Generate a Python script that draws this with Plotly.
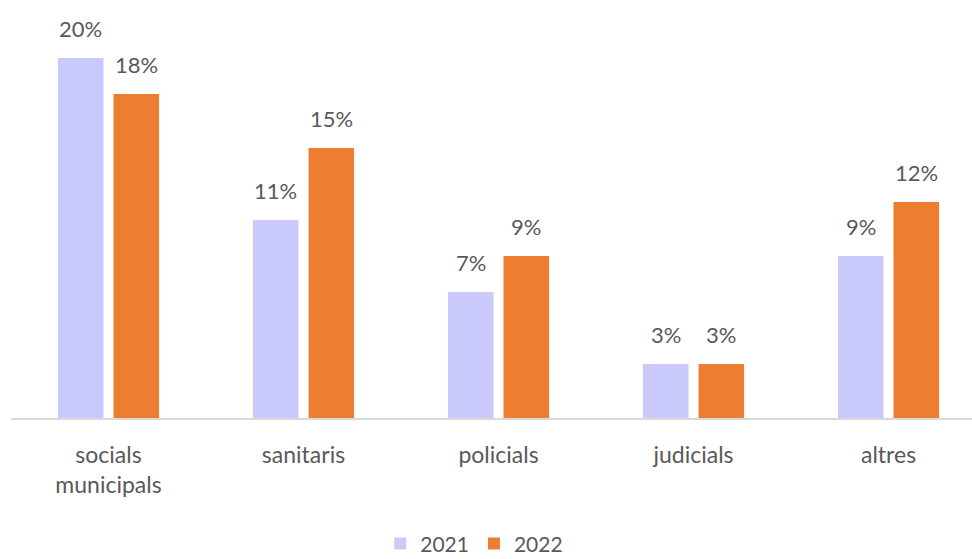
import plotly.graph_objects as go

# Categories and yearly shares (%)
categories = ["socials<br>municipals", "sanitaris", "policials", "judicials", "altres"]
years = ["2021", "2022"]
values_2021 = [20, 11, 7, 3, 9]
values_2022 = [18, 15, 9, 3, 12]

colors = {"2021": "#c9c9fb", "2022": "#ed7d31"}
text_color = "#595959"
font_family = "Lato, 'Open Sans', sans-serif"

bargap = 0.43
bargroupgap = 0.18

fig = go.Figure()
for year, vals in zip(years, [values_2021, values_2022]):
    fig.add_trace(go.Bar(
        x=categories,
        y=vals,
        name=year,
        marker=dict(color=colors[year], line=dict(width=0)),
    ))

# Value labels above each bar, placed at the centre of its slot in the group
slot = (1 - bargap) / len(years)
for k, vals in enumerate([values_2021, values_2022]):
    shift = (k - (len(years) - 1) / 2) * slot
    for i, v in enumerate(vals):
        fig.add_annotation(
            x=i + shift, y=v, xref="x", yref="y",
            text=f"{v}%", showarrow=False,
            yanchor="bottom", xanchor="center", yshift=14,
            font=dict(size=22, color=text_color, family=font_family),
        )

fig.update_layout(
    width=972,
    height=559,
    margin=dict(l=11, r=0, t=20, b=141, autoexpand=False),
    paper_bgcolor="white",
    plot_bgcolor="white",
    barmode="group",
    bargap=bargap,
    bargroupgap=bargroupgap,
    font=dict(family=font_family, size=22, color=text_color),
    showlegend=True,
    legend=dict(
        orientation="h",
        x=0.482, xanchor="center",
        y=-0.316, yanchor="middle",
        font=dict(size=21, color=text_color),
        itemwidth=30,
        traceorder="normal",
    ),
    xaxis=dict(
        range=[-0.5, 4.428],
        automargin=False,
        showline=True,
        linecolor="#d9d9d9",
        linewidth=1.5,
        showgrid=False,
        ticks="outside",
        ticklen=16,
        tickcolor="rgba(0,0,0,0)",
        tickfont=dict(size=23, color=text_color),
    ),
    yaxis=dict(
        range=[0, 22.11],
        visible=False,
        showgrid=False,
        zeroline=False,
        automargin=False,
    ),
)

fig.write_html("out.html")
